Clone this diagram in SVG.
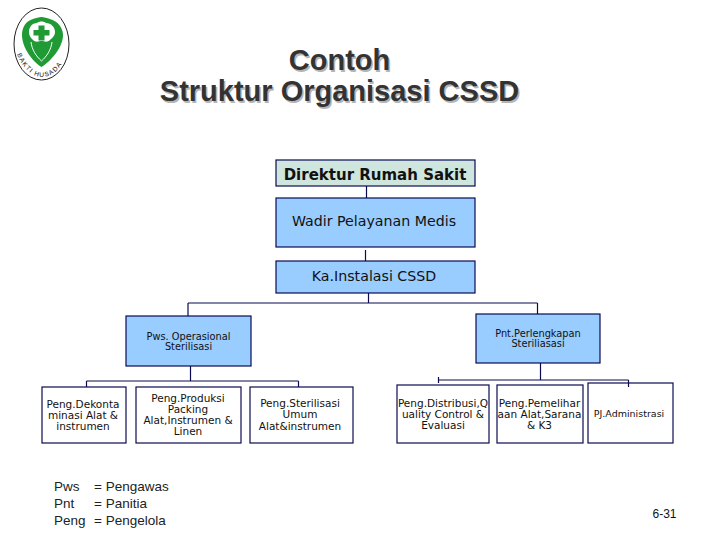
<svg xmlns="http://www.w3.org/2000/svg" width="720" height="540" viewBox="0 0 720 540">
<style>
.box{stroke:#0a0a50;stroke-width:1.2}
.blue{fill:#99ccff}
.white{fill:#fff}
.conn{fill:none;stroke:#0a0a50;stroke-width:1.2}
text{font-family:"DejaVu Sans",sans-serif;fill:#111;text-anchor:middle}
.s{font-size:10.500px}
.xs{font-size:9.800px}
.m{font-size:14.200px}
.title{font-family:"Liberation Sans",Arial,sans-serif;font-size:29px;font-weight:bold;fill:#333}
.shadow{font-family:"Liberation Sans",Arial,sans-serif;font-size:29px;font-weight:bold;fill:#b5b5b5}
.leg{font-family:"Liberation Sans",Arial,sans-serif;font-size:13.500px;text-anchor:start;fill:#222}
</style>
<rect width="720" height="540" fill="#fff"/>
<g id="logo">
<ellipse cx="41.500" cy="44" rx="27.500" ry="36" fill="#fff" stroke="#222" stroke-width="1"/>
<path d="M41.500 67C33 62 22 48 22 35C22 27 26 21 33 19C36 18 39 17 41.500 17C44 17 47 18 50 19C57 21 63 27 63 35C63 48 50 62 41.500 67Z" fill="#1f9a34"/>
<path d="M29 32C29 27 32 23 37 23C39 21 44 21 46 23C51 23 55 27 55 32C55 36 52 38 50 40C47 43 44 41 41.500 41C39 41 36 43 33 40C31 38 29 36 29 32Z" fill="#fff"/>
<path d="M38.500 25.500h6v4.500h5v5.500h-5v5h-6v-5h-5v-5.500h5z" fill="#1f9a34"/>
<path d="M31 42C32 50 36 56 41.500 61C47 56 51 50 52 42" fill="none" stroke="#fff" stroke-width="1"/>
<path d="M41.500 43C45 45 48 48 47 52C46 55 43 56 41.500 58C40 56 37 55 36 52C35 48 38 45 41.500 43Z" fill="#1f9a34"/>
<path id="arc" d="M17 54C23 69 33 77 42 77C52 77 61 69 67 54" fill="none"/>
<text style="font-family:'Liberation Sans',sans-serif;font-size:6.500px;text-anchor:start" fill="#222"><textPath href="#arc" textLength="60">BAKTI HUSADA</textPath></text>
</g>
<g id="title">
<text class="shadow" x="341" y="71.500">Contoh</text>
<text class="shadow" x="341" y="102.500">Struktur Organisasi CSSD</text>
<text class="title" x="339.500" y="70">Contoh</text>
<text class="title" x="339.500" y="101">Struktur Organisasi CSSD</text>
</g>
<g id="direktur"><rect class="box" x="276" y="160" width="199" height="26" fill="#cfe6de"/><text x="375" y="180" style="font-size:15px;font-weight:bold">Direktur Rumah Sakit</text></g>
<g id="wadir"><rect class="box blue" x="276" y="198" width="199" height="49"/><text class="m" x="374" y="226">Wadir Pelayanan Medis</text></g>
<g id="kainstalasi"><rect class="box blue" x="276" y="261" width="199" height="32"/><text class="m" x="374" y="281">Ka.Instalasi CSSD</text></g>
<g id="pws"><rect class="box blue" x="126" y="316" width="125" height="50"/><text class="xs" x="188.500" y="340">Pws. Operasional</text><text class="xs" x="188.500" y="350">Sterilisasi</text></g>
<g id="pnt"><rect class="box blue" x="476" y="314" width="124" height="49"/><text class="xs" x="538" y="337">Pnt.Perlengkapan</text><text class="xs" x="538" y="347">Steriliasasi</text></g>
<g id="dekonta"><rect class="box white" x="42" y="387" width="84" height="56"/><text class="s" x="83" y="408">Peng.Dekonta</text><text class="s" x="83" y="419">minasi Alat &amp;</text><text class="s" x="83" y="430">instrumen</text></g>
<g id="produksi"><rect class="box white" x="136" y="387" width="105" height="56"/><text class="s" x="188" y="402">Peng.Produksi</text><text class="s" x="188" y="413">Packing</text><text class="s" x="188" y="424">Alat,Instrumen &amp;</text><text class="s" x="188" y="435">Linen</text></g>
<g id="sterilisasi"><rect class="box white" x="250" y="387" width="103" height="56"/><text class="s" x="300" y="407">Peng.Sterilisasi</text><text class="s" x="300" y="418">Umum</text><text class="s" x="300" y="430">Alat&amp;instrumen</text></g>
<g id="distribusi"><rect class="box white" x="397" y="385" width="92" height="58"/><text class="s" x="443" y="407">Peng.Distribusi,Q</text><text class="s" x="443" y="418">uality Control &amp;</text><text class="s" x="443" y="429">Evaluasi</text></g>
<g id="pemelihar"><rect class="box white" x="497" y="385" width="86" height="58"/><text class="s" x="539.500" y="407">Peng.Pemelihar</text><text class="s" x="539.500" y="418">aan Alat,Sarana</text><text class="s" x="539.500" y="429">&amp; K3</text></g>
<g id="pj"><rect class="box white" x="588" y="383" width="85" height="60"/><text x="629" y="417" style="font-size:9.500px">PJ.Administrasi</text></g>
<g id="connectors">
<path class="conn" d="M366.500 186V198M365.500 250V261M368.500 293V303M188 303H537.500M188 303V316M537.500 303V314M190.500 366V381M86.500 381H298.500M86.500 381V387M298.500 381V387M540.500 363V380M438.500 380H628.500M438.500 377V383M628.500 380V387"/>
</g>
<g id="legend">
<text class="leg" x="54" y="491">Pws</text><text class="leg" x="94" y="491">= Pengawas</text>
<text class="leg" x="54" y="508">Pnt</text><text class="leg" x="94" y="508">= Panitia</text>
<text class="leg" x="54" y="525">Peng</text><text class="leg" x="94" y="525">= Pengelola</text>
</g>
<text x="664.500" y="518" style="font-family:'Liberation Sans',sans-serif;font-size:12px">6-31</text>
</svg>
